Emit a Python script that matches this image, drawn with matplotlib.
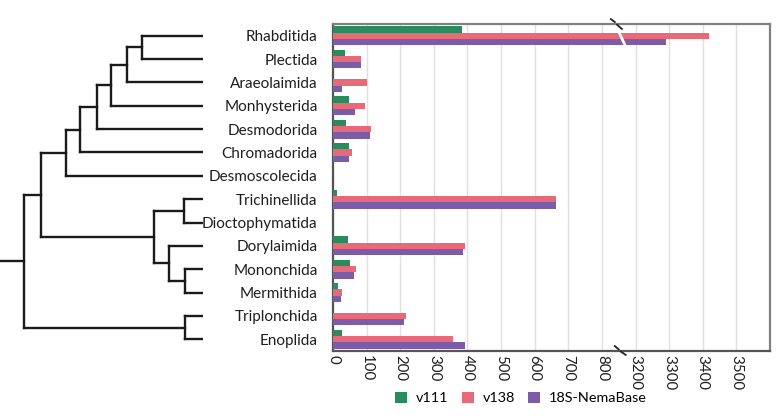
import matplotlib
matplotlib.use("Agg")
import matplotlib.pyplot as plt
import numpy as np

plt.rcParams['font.family'] = ['Lato', 'DejaVu Sans']

orders = ['Rhabditida', 'Plectida', 'Araeolaimida', 'Monhysterida', 'Desmodorida',
          'Chromadorida', 'Desmoscolecida', 'Trichinellida', 'Dioctophymatida',
          'Dorylaimida', 'Mononchida', 'Mermithida', 'Triplonchida', 'Enoplida']
v111 = [383, 37, 0, 47, 38, 49, 0, 11, 0, 45, 52, 14, 0, 28]
v138 = [3419, 84, 102, 96, 113, 56, 0, 664, 0, 392, 67, 28, 218, 358]
nemabase = [3290, 84, 28, 66, 110, 47, 0, 664, 0, 386, 61, 24, 210, 392]
series_names = ['v111', 'v138', '18S-NemaBase']
colors = ['#2a8c5c', '#e86a78', '#7b5ca8']

ticks = [0, 100, 200, 300, 400, 500, 600, 700, 800, 3200, 3300, 3400, 3500]
brk_lo, brk_hi, xmax = 850, 3150, 3600

# tree: (branch depth, [children]); leaves are names
tree = (24, [(41, [(66, [(80, [(97, [(111, [(127, [(142, ['Rhabditida', 'Plectida']),
                                                    'Araeolaimida']),
                                             'Monhysterida']),
                                      'Desmodorida']),
                               'Chromadorida']),
                        'Desmoscolecida']),
                  (154, [(184, ['Trichinellida', 'Dioctophymatida']),
                         (169, ['Dorylaimida', (185, ['Mononchida', 'Mermithida'])])])]),
             (185, ['Triplonchida', 'Enoplida'])])
leaf_x = 203


def disp(v):
    v = np.asarray(v, dtype=float)
    return np.where(v > brk_lo, v - (brk_hi - brk_lo), v)


W, H = 782, 418
fig = plt.figure(figsize=(W / 100, H / 100), dpi=100)
L, R, T, B = 333, 770, 24, 351
ax = fig.add_axes([L / W, 1 - B / H, (R - L) / W, (B - T) / H])
axd = fig.add_axes([0, 1 - B / H, leaf_x / W, (B - T) / H])

y = np.arange(len(orders))
bh = 0.27
for i, (vals, c, name) in enumerate(zip([v111, v138, nemabase], colors, series_names)):
    ax.barh(y + (i - 1) * bh, disp(vals), height=bh, color=c, linewidth=0,
            label=name, zorder=3)

dmax = float(disp(xmax))
ax.set_xlim(0, dmax)
ax.set_ylim(len(orders) - 0.5, -0.5)
ax.set_xticks(disp(ticks))
ax.set_xticklabels([str(t) for t in ticks], rotation=270, fontsize=10.8, color='#1e1e1e')
ax.set_yticks(y)
ax.set_yticklabels(orders, fontsize=11, color='#1e1e1e')
ax.tick_params(axis='both', length=0)
ax.tick_params(axis='y', pad=11)
ax.tick_params(axis='x', pad=3)
ax.grid(axis='x', color='#e0e0e0', linewidth=1, zorder=0)
for s in ax.spines.values():
    s.set_color('#808080')
    s.set_linewidth(1.6)
ax.spines['left'].set_color('#555555')
ax.spines['bottom'].set_color('#555555')

# break: white slash through the long bars, plus marks on top and bottom
bx = brk_lo + 6
gap = 9
sl = 14
poly_y = [-0.42, -0.42, 0.45, 0.45]
poly_x = [bx - sl - gap / 2, bx - sl + gap / 2, bx + sl + gap / 2, bx + sl - gap / 2]
ax.fill(poly_x, poly_y, color='white', zorder=4, lw=0)
bf = brk_lo / dmax
tr = ax.transAxes
marks = [((-0.018, -0.009), (1.015, 1.006)), ((-0.004, 0.007), (0.998, 0.985)),
         ((-0.009, 0.0), (0.015, 0.005)), ((0.005, 0.016), (-0.002, -0.012))]
for (dx0, dx1), (y0, y1) in marks:
    ax.plot([bf + dx0, bf + dx1], [y0, y1], color='#222222', lw=1.3,
            transform=tr, clip_on=False, zorder=5)

# dendrogram
pos = {n: i for i, n in enumerate(orders)}


def draw(node):
    if isinstance(node, str):
        return leaf_x, pos[node]
    depth, kids = node
    pts = [draw(k) for k in kids]
    ys = [p[1] for p in pts]
    for kx, ky in pts:
        axd.plot([depth, kx], [ky, ky], color='#1a1a1a', lw=1.7, solid_capstyle='projecting')
    axd.plot([depth, depth], [min(ys), max(ys)], color='#1a1a1a', lw=1.7,
             solid_capstyle='projecting')
    return depth, float(np.mean(ys))


rx, ry = draw(tree)
axd.plot([0, rx], [ry, ry], color='#1a1a1a', lw=1.7)
axd.set_xlim(0, leaf_x)
axd.set_ylim(len(orders) - 0.5, -0.5)
axd.axis('off')

fig.legend(loc='center', bbox_to_anchor=(521 / W, 1 - 398 / H), ncol=3, frameon=False,
           fontsize=10.4, handlelength=0.85, handleheight=0.85, columnspacing=0.9,
           handletextpad=0.6, borderpad=0.2)

fig.savefig('out.png', dpi=100)
